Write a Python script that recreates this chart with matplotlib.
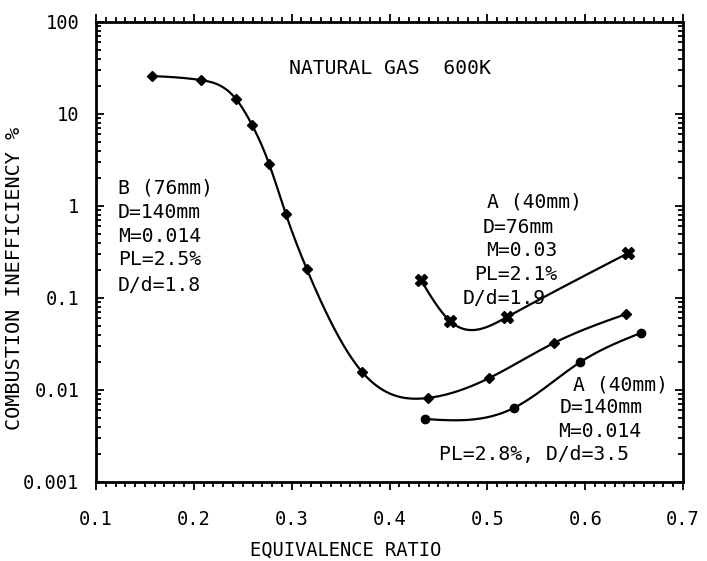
import numpy as np
import matplotlib
matplotlib.use('Agg')
import matplotlib.pyplot as plt
from matplotlib.ticker import FixedLocator, MultipleLocator, NullFormatter

# curve B (76mm), D=140mm
b_phi = [0.157, 0.207, 0.243, 0.2595, 0.277, 0.294, 0.3155, 0.372, 0.4395, 0.502, 0.568, 0.642]
b_ineff = [25.9, 23.4, 14.6, 7.6, 2.86, 0.82, 0.206, 0.0157, 0.0082, 0.0135, 0.0324, 0.067]

# curve A (40mm), D=76mm
a76_phi = [0.432, 0.462, 0.520, 0.644]
a76_ineff = [0.157, 0.056, 0.062, 0.308]

# curve A (40mm), D=140mm
a140_phi = [0.436, 0.527, 0.595, 0.657]
a140_ineff = [0.00484, 0.00637, 0.0201, 0.0417]

y_ticks = [0.001, 0.01, 0.1, 1, 10, 100]
y_ticklabels = ['0.001', '0.01', '0.1', '1', '10', '100']
x_ticks = [0.1, 0.2, 0.3, 0.4, 0.5, 0.6, 0.7]


def smooth(x, y, n=300):
    # natural cubic spline through the points, done in log space
    x = np.asarray(x, float)
    y = np.log10(np.asarray(y, float))
    k = len(x)
    h = np.diff(x)
    A = np.zeros((k, k))
    r = np.zeros(k)
    A[0, 0] = A[-1, -1] = 1
    for i in range(1, k - 1):
        A[i, i - 1] = h[i - 1]
        A[i, i] = 2 * (h[i - 1] + h[i])
        A[i, i + 1] = h[i]
        r[i] = 6 * ((y[i + 1] - y[i]) / h[i] - (y[i] - y[i - 1]) / h[i - 1])
    M = np.linalg.solve(A, r)
    xs = np.linspace(x[0], x[-1], n)
    idx = np.clip(np.searchsorted(x, xs) - 1, 0, k - 2)
    x0, x1 = x[idx], x[idx + 1]
    hh = x1 - x0
    t0, t1 = x1 - xs, xs - x0
    ys = (M[idx] * t0 ** 3 + M[idx + 1] * t1 ** 3) / (6 * hh) \
        + (y[idx] / hh - M[idx] * hh / 6) * t0 + (y[idx + 1] / hh - M[idx + 1] * hh / 6) * t1
    return xs, 10 ** ys


plt.rcParams['font.family'] = ['DejaVu Sans Mono']
fig = plt.figure(figsize=(7.07, 5.61), dpi=100)
ax = fig.add_axes([96 / 707, 1 - 482 / 561, 587 / 707, 460 / 561])

for px, py, mk, ms in [(b_phi, b_ineff, 'D', 5), (a76_phi, a76_ineff, 'X', 8), (a140_phi, a140_ineff, 'o', 6)]:
    sx, sy = smooth(px, py)
    ax.plot(sx, sy, color='black', lw=1.6)
    ax.plot(px, py, ls='none', marker=mk, ms=ms, color='black')

ax.set_yscale('log')
ax.set_xlim(0.1, 0.7)
ax.set_ylim(0.001, 100)
ax.xaxis.set_major_locator(FixedLocator(x_ticks))
ax.xaxis.set_minor_locator(MultipleLocator(0.01))
ax.set_xticklabels(['%.1f' % v for v in x_ticks])
ax.yaxis.set_major_locator(FixedLocator(y_ticks))
ax.set_yticklabels(y_ticklabels)
ax.yaxis.set_minor_formatter(NullFormatter())
ax.tick_params(which='both', top=True, right=True, direction='in', labelsize=13.5, width=1.3)
ax.tick_params(axis='x', which='both', bottom=True, direction='out')
ax.tick_params(which='major', length=6)
ax.tick_params(axis='x', which='major', pad=14)
ax.tick_params(axis='y', which='major', pad=12)
ax.tick_params(which='minor', length=3.5)
for s in ax.spines.values():
    s.set_linewidth(2)

ax.set_xlabel('EQUIVALENCE RATIO', fontsize=13.5)
ax.xaxis.set_label_coords(0.426, -0.128)
ax.set_ylabel('COMBUSTION INEFFICIENCY %', fontsize=14.5)
ax.yaxis.set_label_coords(-0.123, 0.443)

fs = 14.2
tr = ax.transAxes
ax.text(0.329, 0.90, 'NATURAL GAS  600K', transform=tr, fontsize=fs, va='center')

for fy, s in zip([0.639, 0.585, 0.533, 0.483, 0.428],
                 ['B (76mm)', 'D=140mm', 'M=0.014', 'PL=2.5%', 'D/d=1.8']):
    ax.text(0.0375, fy, s, transform=tr, fontsize=fs, va='center')

for fx, fy, s in [(0.666, 0.609, 'A (40mm)'), (0.659, 0.554, 'D=76mm'), (0.664, 0.504, 'M=0.03'),
                  (0.644, 0.452, 'PL=2.1%'), (0.625, 0.400, 'D/d=1.9')]:
    ax.text(fx, fy, s, transform=tr, fontsize=fs, va='center')

for fx, fy, s in [(0.813, 0.211, 'A (40mm)'), (0.789, 0.161, 'D=140mm'), (0.787, 0.109, 'M=0.014'),
                  (0.584, 0.0587, 'PL=2.8%, D/d=3.5')]:
    ax.text(fx, fy, s, transform=tr, fontsize=fs, va='center')

fig.savefig('out.png', dpi=100)
